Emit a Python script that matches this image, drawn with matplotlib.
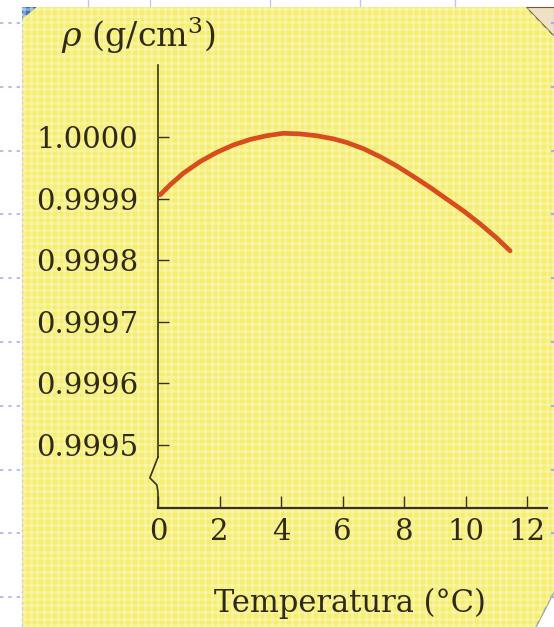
import matplotlib
matplotlib.use("Agg")
import matplotlib.pyplot as plt
import matplotlib.patches as mpatches
import numpy as np

# ---- data ----
temperature = [0.07, 0.39, 0.82, 1.37, 1.91, 2.45, 3.00, 3.53, 4.07, 4.62, 5.16,
               5.70, 6.14, 6.68, 7.22, 7.76, 8.30, 8.85, 9.39, 9.93, 10.47, 11.01, 11.45]
density = [0.999906, 0.999922, 0.999941, 0.999960, 0.999975, 0.999987, 0.999996,
           1.000002, 1.000006, 1.000005, 1.000002, 0.999997, 0.999991, 0.999981,
           0.999968, 0.999953, 0.999936, 0.999918, 0.999899, 0.999880, 0.999859,
           0.999836, 0.999815]
x_ticks = [0, 2, 4, 6, 8, 10, 12]
y_ticks = [0.9995, 0.9996, 0.9997, 0.9998, 0.9999, 1.0000]
y_ticklabels = ["0.9995", "0.9996", "0.9997", "0.9998", "0.9999", "1.0000"]

W, H = 554, 627
plt.rcParams['font.family'] = ['DejaVu Serif']
plt.rcParams['mathtext.fontset'] = 'dejavuserif'

fig = plt.figure(figsize=(W / 100, H / 100), dpi=100, facecolor='white')

# ---- background "page" ----
bg = fig.add_axes([0, 0, 1, 1], zorder=0)
bg.set_xlim(0, W)
bg.set_ylim(H, 0)
bg.axis('off')

panel = mpatches.Polygon([(22, 7), (526, 7), (554, 36), (554, 592), (536, 627), (22, 627)],
                         closed=True, facecolor='#F5ED6E', edgecolor='none')
bg.add_patch(panel)
fold = mpatches.Polygon([(526, 7), (554, 7), (554, 36)], closed=True,
                        facecolor='#EFE2C4', edgecolor='#6b5a3a', lw=0.8)
bg.add_patch(fold)
bg.plot([554, 536], [592, 627], color='#9a9a8a', lw=1.0)
corner = mpatches.Polygon([(22, 7), (37, 7), (22, 19)], closed=True,
                          facecolor='#3a6fd0', edgecolor='none')
bg.add_patch(corner)

# soft checkered texture
step = 6.7
xs = np.arange(24, W, step)
ys = np.arange(9, H, step)
vl = bg.vlines(xs, 0, H, colors='#FDFBD2', lw=2.0, alpha=0.38)
hl = bg.hlines(ys, 0, W, colors='#FDFBD2', lw=2.0, alpha=0.38)
vl.set_clip_path(panel)
hl.set_clip_path(panel)

# margin decorations
bg.plot([22, 22], [7, 627], color='#c8ccf4', lw=1.0, ls=(0, (2, 2)))
for yy in np.arange(23, H, 63.8):
    bg.plot([0, 20], [yy, yy], color='#aab2ee', lw=1.2, ls=(0, (2, 3)))
    bg.plot([552, 554], [yy, yy], color='#a6b0f0', lw=1.6)
for xx in [88, 150, 270, 360, 455]:
    bg.plot([xx, xx], [0, 6], color='#c0c6f2', lw=1.0)

# ---- main axes ----
ax = fig.add_axes([158 / W, 1 - 508 / H, 389 / W, 443 / H], zorder=2)
ax.set_facecolor('none')
ax.set_xlim(0, 12.65)
ylo, yhi = 0.999397, 1.000117
ax.set_ylim(ylo, yhi)

ink = '#36321c'
ax.plot(temperature, density, color='#D84C1E', lw=3.4, solid_capstyle='round',
        solid_joinstyle='round', zorder=3)

for s in ['top', 'right']:
    ax.spines[s].set_visible(False)
ax.spines['left'].set_color(ink)
ax.spines['left'].set_linewidth(1.2)
ax.spines['left'].set_bounds(ylo + 0.115 * (yhi - ylo), yhi)
ax.spines['bottom'].set_color(ink)
ax.spines['bottom'].set_linewidth(1.6)

# axis break (zigzag)
ax.plot([0, -0.021, -0.003, 0, 0], [0.115, 0.068, 0.052, 0.036, 0.0],
        transform=ax.transAxes, color=ink, lw=1.2, clip_on=False)

ax.set_xticks(x_ticks)
ax.set_xticklabels([str(t) for t in x_ticks])
ax.set_yticks(y_ticks)
ax.set_yticklabels(y_ticklabels)
ax.tick_params(axis='both', direction='in', colors=ink, labelcolor='#2e2a16')
ax.tick_params(axis='x', length=9, width=1.0, labelsize=21, pad=7)
ax.tick_params(axis='y', length=8, width=1.0, labelsize=21, pad=14)

fig.text(138 / W, 1 - 35 / H, r'$\rho$ (g/cm$^3$)', ha='center', va='center',
         fontsize=24, color='#2e2a16')
fig.text(350 / W, 1 - 603 / H, 'Temperatura (°C)', ha='center', va='center',
         fontsize=22, color='#2e2a16')

fig.savefig('out.png', dpi=100, facecolor='white')
